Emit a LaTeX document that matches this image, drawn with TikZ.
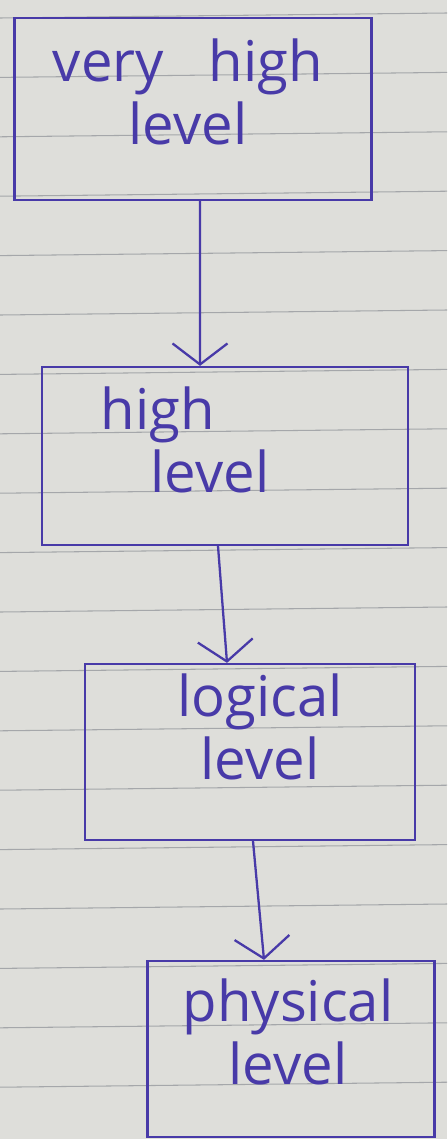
\documentclass[tikz,border=0pt]{standalone}
\usepackage{xcolor}
\usepackage{fontspec}
\setmainfont{Open Sans}
\usepackage{tikz}
\usetikzlibrary{arrows.meta, positioning, calc}
\definecolor{paper}{RGB}{222, 222, 218}
\definecolor{ruleline}{RGB}{165, 167, 170}
\definecolor{inkblue}{RGB}{72, 58, 168}

\begin{document}
\begin{tikzpicture}[x=0.02cm, y=-0.02cm,
    levelbox/.style={draw=inkblue, line width=1.3pt, inner sep=0pt},
    hand/.style={text=inkblue, font=\fontsize{32}{36}\selectfont, align=center, inner sep=0pt},
    flow/.style={draw=inkblue, line width=1.3pt,
                 -{Straight Barb[length=0.42cm, width=1.1cm, line width=1.3pt]}}]
    % ruled paper
    \fill[paper] (0,0) rectangle (447,1139);
    \useasboundingbox (0,0) rectangle (447,1139);
    \foreach \k in {0,...,18}
        \draw[ruleline, line width=0.6pt] (0,{18+59.4*\k}) -- (447,{13+59.4*\k});

    % the four levels
    \node[levelbox, minimum width=7.14cm, minimum height=3.64cm] (vhigh) at (193,109) {};
    \node[levelbox, minimum width=7.32cm, minimum height=3.56cm] (high) at (225,456) {};
    \node[levelbox, minimum width=6.60cm, minimum height=3.52cm] (logic) at (250,752) {};
    \node[levelbox, minimum width=5.74cm, minimum height=3.52cm] (phys) at (291,1049) {};

    \node[hand] (vhightxt) at (188,92) {very\hspace{0.9cm}high\\level};
    \node[hand, align=left] (hightxt) at (185,440) {high\\\hspace{1.0cm}level};
    \node[hand] (logictxt) at (260,727) {logical\\level};
    \node[hand] (phystxt) at (288,1032) {physical\\level};

    \draw[flow] ([xshift=0.14cm]vhigh.south) -- ([xshift=-0.50cm]high.north);
    \draw[flow] ([xshift=-0.14cm]high.south) -- ([xshift=-0.46cm]logic.north);
    \draw[flow] ([xshift=0.06cm]logic.south) -- ([xshift=-0.54cm]phys.north);
\end{tikzpicture}
\end{document}
